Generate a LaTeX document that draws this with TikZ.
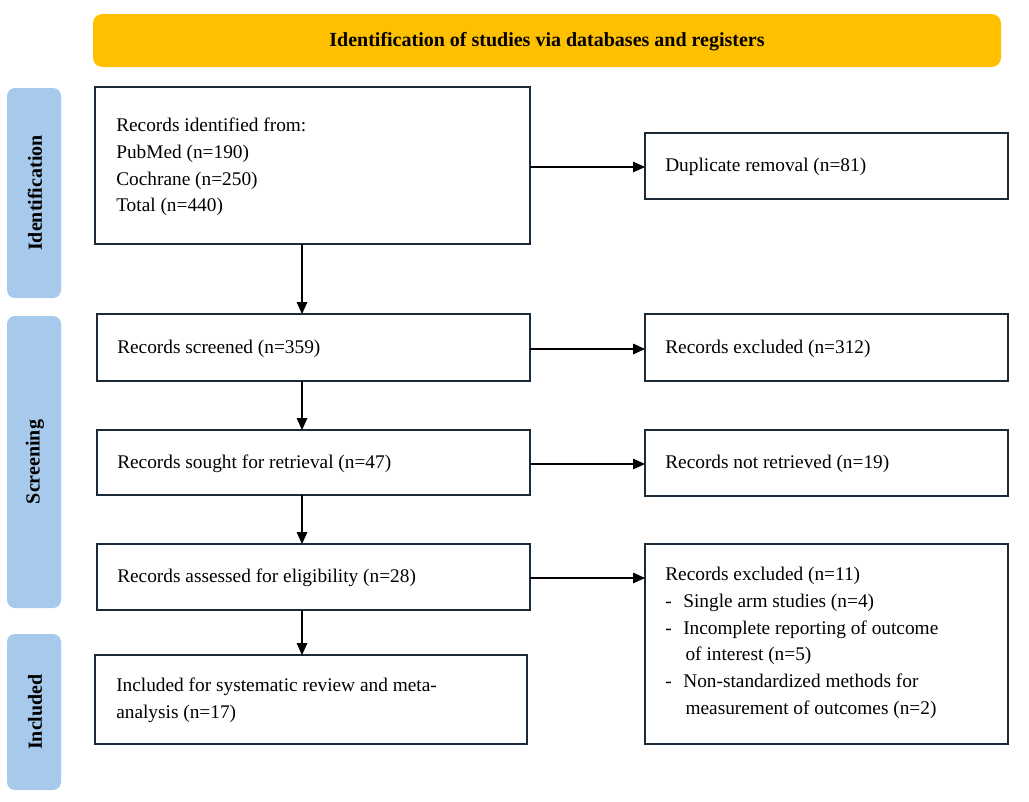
\documentclass[tikz,border=0pt]{standalone}
\usepackage{fontspec}
\setmainfont{Liberation Serif}
\usetikzlibrary{arrows.meta}
\definecolor{hdr}{HTML}{FFC000}
\definecolor{side}{HTML}{A7C9EB}
\definecolor{bd}{HTML}{1B2A38}
\begin{document}
\begin{tikzpicture}[x=0.75pt,y=-0.75pt,
 box/.style={draw=bd,line width=1.5pt},
 sidebox/.style={fill=side,rounded corners=6pt},
 txt/.style={anchor=west,align=left,font=\fontsize{14.5}{20}\selectfont,inner sep=0pt},
 stxt/.style={rotate=90,font=\fontsize{15}{18}\selectfont\bfseries},
 arr/.style={-{Triangle[length=9pt,width=8pt]},line width=0.8pt}]
\useasboundingbox (0,0) rectangle (1029,801);
\fill[hdr,rounded corners=7pt] (93,14) rectangle (1001,67);
\node[font=\fontsize{15}{18}\selectfont\bfseries] (hdr) at (547,42) {Identification of studies via databases and registers};
\fill[sidebox] (7,88) rectangle (61,298);
\node[stxt] (s1) at (35,193) {Identification};
\fill[sidebox] (7,316) rectangle (61,608);
\node[stxt] (s2) at (35,462) {Screening};
\fill[sidebox] (7,634) rectangle (61,790);
\node[stxt] (s3) at (35,712) {Included};
\draw[box] (95,87) rectangle (530,244);
\coordinate (b1r) at (530,167); \coordinate (b1b) at (302,244);
\node[txt] (t1) at (116,167) {Records identified from:\\PubMed (n=190)\\Cochrane (n=250)\\Total (n=440)};
\draw[box] (645,133) rectangle (1008,199);
\coordinate (d1l) at (645,167);
\node[txt] (t2) at (665,167) {Duplicate removal (n=81)};
\draw[box] (97,314) rectangle (530,381);
\node[txt] (t3) at (117,349) {Records screened (n=359)};
\draw[box] (645,314) rectangle (1008,381);
\node[txt] (t4) at (665,349) {Records excluded (n=312)};
\draw[box] (97,430) rectangle (530,495);
\node[txt] (t5) at (117,464) {Records sought for retrieval (n=47)};
\draw[box] (645,430) rectangle (1008,496);
\node[txt] (t6) at (665,464) {Records not retrieved (n=19)};
\draw[box] (97,544) rectangle (530,610);
\node[txt] (t7) at (117,578) {Records assessed for eligibility (n=28)};
\draw[box] (645,544) rectangle (1008,744);
\node[txt,anchor=north west] (t8) at (665,567) {Records excluded (n=11)\\
-\hspace{0.6em}Single arm studies (n=4)\\
-\hspace{0.6em}Incomplete reporting of outcome\\
\hspace{1.05em}of interest (n=5)\\
-\hspace{0.6em}Non-standardized methods for\\
\hspace{1.05em}measurement of outcomes (n=2)};
\draw[box] (95,655) rectangle (527,744);
\node[txt] (t9) at (116,700) {Included for systematic review and meta-\\analysis (n=17)};
\draw[arr] (b1r) -- (d1l);
\draw[arr] (b1b) -- (302,314);
\draw[arr] (530,349) -- (645,349);
\draw[arr] (302,381) -- (302,430);
\draw[arr] (530,464) -- (645,464);
\draw[arr] (302,495) -- (302,544);
\draw[arr] (530,578) -- (645,578);
\draw[arr] (302,610) -- (302,655);
\end{tikzpicture}
\end{document}
